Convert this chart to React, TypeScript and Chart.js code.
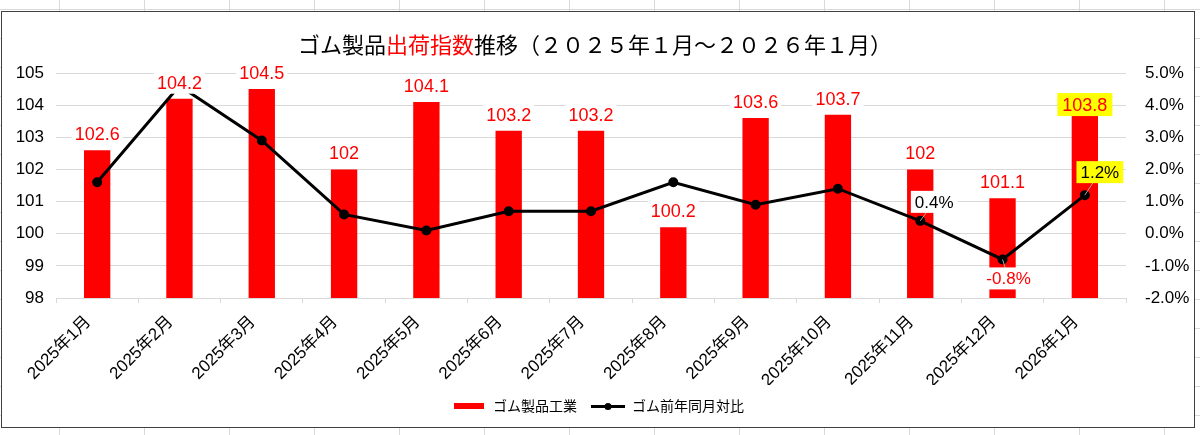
import { useEffect, useRef } from 'react'
import { Chart, registerables } from 'chart.js'
Chart.register(...registerables)

// data
const MONTHS = [
  '2025年1月', '2025年2月', '2025年3月', '2025年4月', '2025年5月', '2025年6月', '2025年7月',
  '2025年8月', '2025年9月', '2025年10月', '2025年11月', '2025年12月', '2026年1月',
]
const SHIPMENT_INDEX = [102.6, 104.2, 104.5, 102, 104.1, 103.2, 103.2, 100.2, 103.6, 103.7, 102, 101.1, 103.8]
const YOY_PCT = [1.6, 4.6, 2.9, 0.6, 0.1, 0.7, 0.7, 1.6, 0.9, 1.4, 0.4, -0.8, 1.2]
const INDEX_RANGE = [98, 105]
const PCT_RANGE = [-2, 5]
const BAR_NAME = 'ゴム製品工業'
const LINE_NAME = 'ゴム前年同月対比'
const TITLE_PARTS = [
  { text: 'ゴム製品', color: '#000000' },
  { text: '出荷指数', color: '#ff0000' },
  { text: '推移（２０２５年１月～２０２６年１月）', color: '#000000' },
]
const YOY_LABELED = [10, 11, 12]

// label styling (not data)
const YOY_LABEL_STYLE: Record<number, { dx: number; dy: number; bg: string }> = {
  10: { dx: 14, dy: -19, bg: '#ffffff' },
  11: { dx: 6, dy: 19, bg: '#ffffff' },
  12: { dx: 15, dy: -23, bg: '#ffff00' },
}
const HIGHLIGHT_BAR = 12

const RED = '#ff0000'
const GRID = '#d9d9d9'
const SANS = "'Liberation Sans', 'Noto Sans CJK JP', sans-serif"
const CJK = "'Noto Sans CJK JP', 'Liberation Sans', sans-serif"

function makeIcon(kind: 'bar' | 'line') {
  const c = document.createElement('canvas')
  c.width = 34
  c.height = 8
  const g = c.getContext('2d')!
  if (kind === 'bar') {
    g.fillStyle = RED
    g.fillRect(2, 1, 30, 6)
  } else {
    g.fillStyle = '#000'
    g.fillRect(0, 3, 34, 3)
    g.beginPath()
    g.arc(17, 4.5, 3.5, 0, Math.PI * 2)
    g.fill()
  }
  return c
}

const titlePlugin = {
  id: 'mixedTitle',
  afterDraw(chart: Chart) {
    const ctx = chart.ctx
    ctx.save()
    ctx.font = `22px ${CJK}`
    ctx.textBaseline = 'middle'
    ctx.textAlign = 'left'
    const total = TITLE_PARTS.reduce((s, p) => s + ctx.measureText(p.text).width, 0)
    let x = chart.width / 2 - 3 - total / 2
    for (const p of TITLE_PARTS) {
      ctx.fillStyle = p.color
      ctx.fillText(p.text, x, 33)
      x += ctx.measureText(p.text).width
    }
    ctx.restore()
  },
}

function drawBoxLabel(ctx: CanvasRenderingContext2D, text: string, cx: number, cy: number, font: string, color: string, bg: string, padX = 4, h = 22) {
  ctx.font = font
  const w = ctx.measureText(text).width + padX * 2
  ctx.fillStyle = bg
  ctx.fillRect(cx - w / 2, cy - h / 2, w, h)
  ctx.fillStyle = color
  ctx.textAlign = 'center'
  ctx.textBaseline = 'middle'
  ctx.fillText(text, cx, cy + 1)
}

const labelPlugin = {
  id: 'dataLabels',
  afterDatasetsDraw(chart: Chart) {
    const ctx = chart.ctx
    ctx.save()
    const bars = chart.getDatasetMeta(0).data
    bars.forEach((el: any, i: number) => {
      const hi = i === HIGHLIGHT_BAR
      drawBoxLabel(ctx, String(SHIPMENT_INDEX[i]), el.x, el.y - (hi ? 7 : 16), `18px ${SANS}`, RED, hi ? '#ffff00' : '#ffffff', hi ? 5 : 3, hi ? 23 : 22)
    })
    const pts = chart.getDatasetMeta(1).data
    for (const i of YOY_LABELED) {
      const el: any = pts[i]
      const st = YOY_LABEL_STYLE[i]
      const cx = el.x + st.dx
      const cy = el.y + st.dy
      ctx.strokeStyle = '#a6a6a6'
      ctx.lineWidth = 1
      ctx.beginPath()
      ctx.moveTo(el.x, el.y)
      ctx.lineTo(cx, cy)
      ctx.stroke()
      const v = YOY_PCT[i]
      drawBoxLabel(ctx, `${v.toFixed(1)}%`, cx, cy, `17px ${SANS}`, v < 0 ? RED : '#000000', st.bg, 4, 22)
    }
    ctx.restore()
  },
}

export default function App() {
  const canvasRef = useRef<HTMLCanvasElement>(null)
  const chartRef = useRef<Chart | null>(null)

  useEffect(() => {
    document.body.style.margin = '0'
    if (!canvasRef.current) return
    chartRef.current?.destroy()
    const barIcon = makeIcon('bar')
    const lineIcon = makeIcon('line')
    chartRef.current = new Chart(canvasRef.current, {
      type: 'bar',
      data: {
        labels: MONTHS,
        datasets: [
          {
            type: 'bar',
            label: BAR_NAME,
            data: SHIPMENT_INDEX,
            backgroundColor: RED,
            yAxisID: 'y',
            order: 2,
            categoryPercentage: 1,
            barPercentage: 0.32,
          },
          {
            type: 'line',
            label: LINE_NAME,
            data: YOY_PCT,
            borderColor: '#000000',
            backgroundColor: '#000000',
            borderWidth: 3,
            pointRadius: 3.5,
            pointBackgroundColor: '#000000',
            tension: 0,
            yAxisID: 'y1',
            order: 1,
          } as any,
        ],
      },
      options: {
        responsive: true,
        maintainAspectRatio: false,
        animation: false,
        layout: { padding: { top: 61, bottom: 4, left: 0, right: 0 } },
        plugins: {
          title: { display: false },
          tooltip: { enabled: false },
          legend: {
            position: 'bottom',
            labels: {
              usePointStyle: true,
              pointStyleWidth: 34,
              padding: 14,
              color: '#000000',
              font: { size: 14, family: CJK },
              generateLabels: () => [
                { text: BAR_NAME, pointStyle: barIcon, fillStyle: RED, strokeStyle: RED, lineWidth: 0, hidden: false, datasetIndex: 0 },
                { text: LINE_NAME, pointStyle: lineIcon, fillStyle: '#000', strokeStyle: '#000', lineWidth: 0, hidden: false, datasetIndex: 1 },
              ] as any,
            },
          },
        },
        scales: {
          x: {
            offset: true,
            border: { color: GRID },
            grid: { drawOnChartArea: false, offset: true, tickLength: 5, color: GRID },
            ticks: {
              color: '#000000',
              font: { size: 17, family: SANS },
              maxRotation: 45,
              minRotation: 45,
              padding: 9,
              labelOffset: -9,
              autoSkip: false,
            },
            afterFit: (s: any) => { s.height = 87 },
          },
          y: {
            position: 'left',
            min: INDEX_RANGE[0],
            max: INDEX_RANGE[1],
            border: { display: false },
            grid: { color: GRID, drawTicks: false },
            ticks: { stepSize: 1, color: '#000000', font: { size: 17, family: SANS }, padding: 12 },
            afterFit: (s: any) => { s.width = 54 },
          },
          y1: {
            position: 'right',
            min: PCT_RANGE[0],
            max: PCT_RANGE[1],
            border: { display: false },
            grid: { display: false },
            ticks: {
              stepSize: 1,
              color: '#000000',
              font: { size: 17, family: SANS },
              padding: 11,
              callback: (v: any) => `${(+v).toFixed(1)}%`,
            },
            afterFit: (s: any) => { s.width = 68 },
          },
        },
      },
      plugins: [titlePlugin, labelPlugin],
    })
    return () => { chartRef.current?.destroy(); chartRef.current = null }
  }, [])

  return (
    <div
      style={{
        position: 'relative',
        width: 1200,
        height: 435,
        overflow: 'hidden',
        backgroundColor: '#ffffff',
        backgroundImage: `linear-gradient(to right, ${GRID} 1px, transparent 1px), linear-gradient(to bottom, ${GRID} 1px, transparent 1px)`,
        backgroundSize: '85px 29px',
        backgroundPosition: '59px 9px',
      }}
    >
      <div
        style={{
          position: 'absolute',
          left: 1,
          top: 11,
          width: 1194,
          height: 417,
          boxSizing: 'border-box',
          border: '1px solid #404040',
          background: '#ffffff',
        }}
      >
        <div style={{ position: 'relative', width: 1192, height: 415 }}>
          <canvas ref={canvasRef} />
        </div>
      </div>
    </div>
  )
}
